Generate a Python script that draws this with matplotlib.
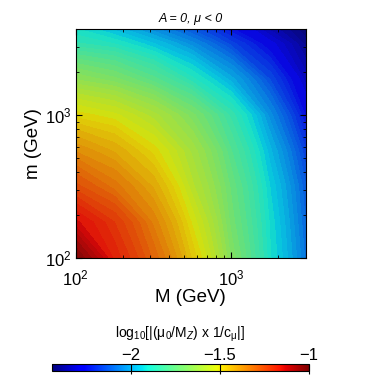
import numpy as np
import matplotlib
matplotlib.use('Agg')
import matplotlib.pyplot as plt
from matplotlib.colors import ListedColormap

plt.rcParams['font.family'] = ['Liberation Sans', 'DejaVu Sans']
plt.rcParams['mathtext.fontset'] = 'custom'
plt.rcParams['mathtext.rm'] = 'Liberation Sans'
plt.rcParams['mathtext.it'] = 'Liberation Sans:italic'

# grid of log10(M), log10(m) and the plotted value
log_M = [2.0, 2.25, 2.5, 2.75, 3.0, 3.25, 3.477]
log_m = [2.0, 2.25, 2.5, 2.75, 3.0, 3.25, 3.5, 3.602]
vals = [
    [-1.02, -1.18, -1.30, -1.47, -1.69, -1.90, -2.08],
    [-1.14, -1.22, -1.35, -1.52, -1.72, -1.91, -2.10],
    [-1.26, -1.33, -1.42, -1.58, -1.74, -1.93, -2.12],
    [-1.37, -1.42, -1.50, -1.62, -1.78, -1.97, -2.17],
    [-1.50, -1.53, -1.60, -1.70, -1.84, -2.04, -2.25],
    [-1.66, -1.70, -1.77, -1.87, -1.99, -2.15, -2.33],
    [-1.85, -1.88, -1.95, -2.04, -2.16, -2.28, -2.40],
    [-1.90, -1.96, -2.04, -2.13, -2.24, -2.35, -2.44],
]
vmin, vmax = -2.44, -1.0
cbar_ticks = [-2, -1.5, -1]

M = 10.0 ** np.array(log_M)
m = 10.0 ** np.array(log_m)
Z = np.array(vals)

# plot colours look a bit duller than the colorbar
jet = plt.get_cmap('jet')
cols = jet(np.linspace(0, 1, 256))
cols[:, :3] = cols[:, :3] * 0.85 + 0.03
muted = ListedColormap(cols)

fig = plt.figure(figsize=(3.82, 3.78), dpi=100)
ax = fig.add_axes([0.198, 0.318, 0.602, 0.605])
levels = np.linspace(vmin, vmax, 60)
cs = ax.contourf(M, m, Z, levels=levels, cmap=muted, vmin=vmin, vmax=vmax, extend='both')
ax.set_xscale('log')
ax.set_yscale('log')
ax.set_xlim(M[0], M[-1])
ax.set_ylim(m[0], m[-1])
ax.tick_params(which='both', direction='in', top=True, right=True, labelsize=12)
ax.tick_params(which='major', length=4.5)
ax.tick_params(which='minor', length=2.5)
ax.tick_params(axis='x', pad=8)
ax.tick_params(axis='y', pad=3)
ax.set_xlabel('M (GeV)', fontsize=13.5, labelpad=0)
ax.set_ylabel('m (GeV)', fontsize=13.5, labelpad=2)
ax.set_title('A = 0, \u03bc < 0', fontsize=9, style='italic', pad=5)

cax = fig.add_axes([0.136, 0.0185, 0.673, 0.0185])
sm = plt.cm.ScalarMappable(cmap='jet', norm=plt.Normalize(vmin, vmax))
cb = fig.colorbar(sm, cax=cax, orientation='horizontal', ticks=cbar_ticks)
cb.ax.xaxis.set_ticks_position('top')
cb.ax.xaxis.set_label_position('top')
cb.ax.tick_params(direction='in', length=7, width=0.8, labelsize=12, pad=1)
cb.ax.set_xticklabels(['\u22122', '\u22121.5', '\u22121'])
cb.set_label('log$_{10}$[|(\u03bc$_0$/M$_Z$) x 1/c$_\\mathrm{\u03bc}$|]', fontsize=10, labelpad=7)
cb.outline.set_linewidth(0.8)

fig.savefig('out.png', dpi=100)
